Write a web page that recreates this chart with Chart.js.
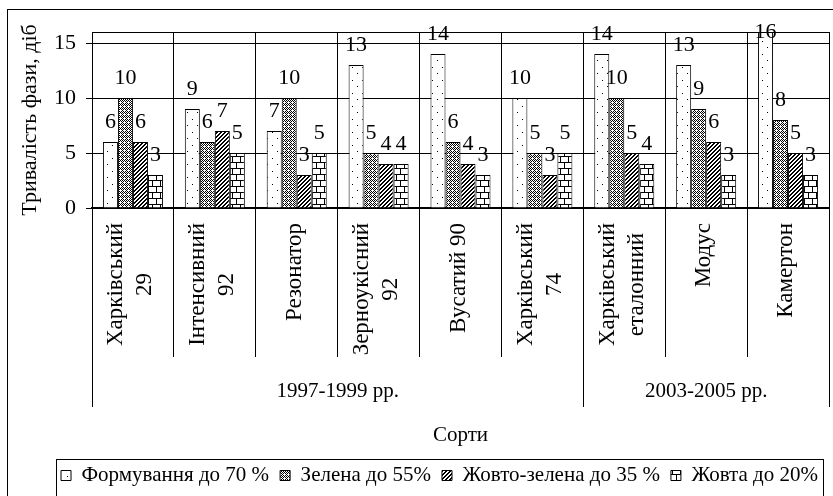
<!DOCTYPE html>
<html>
<head>
<meta charset="utf-8">
<script src="https://cdn.jsdelivr.net/npm/chart.js@4.4.0/dist/chart.umd.min.js"></script>
<style>
  body { margin: 0; background: #fff; }
  canvas { display: block; }
</style>
</head>
<body>
<canvas id="phases" width="833" height="496"></canvas>
<script>
// varieties (two lines where the label wraps)
var categories = [
  ['Харківський', '29'], ['Інтенсивний', '92'], ['Резонатор'],
  ['Зерноукісний', '92'], ['Вусатий 90'], ['Харківський', '74'],
  ['Харківський', 'еталонний'], ['Модус'], ['Камертон']
];
var groupNames = ['1997-1999 рр.', '2003-2005 рр.'];
var groupSizes = [6, 3];

var seriesNames = ['Формування до 70 %', 'Зелена до 55%', 'Жовто-зелена до 35 %', 'Жовта до 20%'];
var formuvannia = [6, 9, 7, 13, 14, 10, 14, 13, 16];
var zelena = [10, 6, 10, 5, 6, 5, 10, 9, 8];
var zhovtoZelena = [6, 7, 3, 4, 4, 3, 5, 6, 5];
var zhovta = [3, 5, 5, 4, 3, 5, 4, 3, 3];

var yMax = 16;
var yStep = 5;

var serif = "'Liberation Serif', 'Times New Roman', serif";
Chart.defaults.color = '#000';
Chart.defaults.font.family = serif;

var ctx = document.getElementById('phases').getContext('2d');

function makePattern(w, h, draw) {
  var c = document.createElement('canvas');
  c.width = w; c.height = h;
  var g = c.getContext('2d');
  g.fillStyle = '#fff';
  g.fillRect(0, 0, w, h);
  g.fillStyle = '#000';
  draw(g, w, h);
  return ctx.createPattern(c, 'repeat');
}

var dots = makePattern(10, 13, function(g) {
  g.fillRect(2, 2, 1, 1);
  g.fillRect(7, 8, 1, 1);
});
var checks = makePattern(4, 4, function(g) {
  for (var x = 0; x < 4; x++) {
    for (var y = 0; y < 4; y++) {
      if ((x + y) % 4 == 0 || (x - y + 4) % 4 == 0) g.fillRect(x, y, 1, 1);
    }
  }
  g.fillRect(2, 0, 1, 1);
});
var stripes = makePattern(4, 4, function(g) {
  for (var x = 0; x < 4; x++) {
    for (var y = 0; y < 4; y++) {
      if ((x + y) % 4 < 2) g.fillRect(x, y, 1, 1);
    }
  }
});
var bricks = makePattern(8, 12, function(g) {
  g.fillRect(0, 0, 8, 1);
  g.fillRect(0, 6, 8, 1);
  g.fillRect(0, 1, 1, 5);
  g.fillRect(4, 7, 1, 5);
});

function align(px) {
  return Math.round(px - 0.5) + 0.5;
}

// frame, multi-level category axis, value labels, legend box
var decorations = {
  id: 'decorations',
  beforeDraw: function(chart) {
    var c = chart.ctx;
    c.save();
    c.fillStyle = '#fff';
    c.fillRect(0, 0, chart.width, chart.height);
    c.strokeStyle = '#000';
    c.lineWidth = 1;
    c.strokeRect(7.5, 9.5, chart.width + 40, chart.height + 40);
    c.restore();
  },
  afterDraw: function(chart) {
    var c = chart.ctx;
    var area = chart.chartArea;
    var xs = chart.scales.x;
    var n = categories.length;
    c.save();
    c.strokeStyle = '#000';
    c.lineWidth = 1;
    c.strokeRect(align(area.left), align(area.top), Math.round(area.right - area.left), Math.round(area.bottom - area.top));

    // category boundaries
    var edges = [];
    for (var i = 0; i <= n; i++) {
      if (i == 0) edges.push(area.left);
      else if (i == n) edges.push(area.right);
      else edges.push((xs.getPixelForValue(i - 1) + xs.getPixelForValue(i)) / 2);
    }
    var groupEdges = [0];
    groupSizes.forEach(function(s) { groupEdges.push(groupEdges[groupEdges.length - 1] + s); });
    c.beginPath();
    edges.forEach(function(ex, i) {
      var len = groupEdges.indexOf(i) >= 0 ? 199 : 149;
      c.moveTo(align(ex), area.bottom);
      c.lineTo(align(ex), area.bottom + len);
    });
    c.stroke();

    // rotated variety names
    c.fillStyle = '#000';
    c.font = '23px ' + serif;
    c.textAlign = 'center';
    c.textBaseline = 'middle';
    categories.forEach(function(lines, i) {
      var cx = xs.getPixelForValue(i) - 2;
      var w = 0;
      lines.forEach(function(t) { w = Math.max(w, c.measureText(t).width); });
      var cy = area.bottom + 15 + w / 2;
      lines.forEach(function(t, j) {
        c.save();
        c.translate(cx + (j - (lines.length - 1) / 2) * 29, cy);
        c.rotate(-Math.PI / 2);
        c.fillText(t, 0, 0);
        c.restore();
      });
    });

    // period labels
    c.font = '21px ' + serif;
    groupNames.forEach(function(g, k) {
      var gx = (edges[groupEdges[k]] + edges[groupEdges[k + 1]]) / 2;
      c.fillText(g, gx, area.bottom + 183);
    });

    // bar values, kept inside the plot at the top
    c.font = '22px ' + serif;
    c.textBaseline = 'alphabetic';
    chart.data.datasets.forEach(function(ds, di) {
      chart.getDatasetMeta(di).data.forEach(function(bar, i) {
        c.fillText(ds.data[i], bar.x, Math.max(bar.y - 14, area.top + 6));
      });
    });

    // legend frame
    var boxes = chart.legend.legendHitBoxes;
    if (boxes && boxes.length) {
      var first = boxes[0], last = boxes[boxes.length - 1];
      var lx = Math.round(first.left - 5) + 0.5;
      var rx = Math.round(last.left + last.width + 5) + 0.5;
      var ty = Math.round(first.top - 6) + 0.5;
      c.strokeRect(lx, ty, rx - lx, chart.height + 10 - ty);
    }
    c.restore();
  }
};

function series(label, data, fill) {
  return {
    label: label,
    data: data,
    backgroundColor: fill,
    borderColor: '#000',
    borderWidth: 1,
    barPercentage: 1,
    categoryPercentage: 0.733
  };
}

var phaseChart = new Chart(ctx, {
  type: 'bar',
  data: {
    labels: categories,
    datasets: [
      series(seriesNames[0], formuvannia, dots),
      series(seriesNames[1], zelena, checks),
      series(seriesNames[2], zhovtoZelena, stripes),
      series(seriesNames[3], zhovta, bricks)
    ]
  },
  options: {
    responsive: false,
    animation: false,
    devicePixelRatio: 1,
    layout: { padding: { top: 32, left: 0, right: 4, bottom: 0 } },
    plugins: {
      tooltip: { enabled: false },
      legend: {
        position: 'bottom',
        align: 'end',
        labels: { boxWidth: 10, boxHeight: 10, padding: 11, color: '#000', font: { family: serif, size: 21 } }
      }
    },
    scales: {
      x: {
        grid: { color: '#000', offset: true, drawTicks: false },
        border: { color: '#000', width: 2 },
        ticks: { display: false },
        title: { display: true, text: 'Сорти', color: '#000', font: { family: serif, size: 21 }, padding: { top: 0, bottom: 6 } },
        afterFit: function(scale) { scale.height = 246; }
      },
      y: {
        min: 0,
        max: yMax,
        ticks: { stepSize: yStep, includeBounds: false, padding: 10, color: '#000', font: { family: serif, size: 22 } },
        grid: { color: '#000', tickLength: 6 },
        border: { color: '#000' },
        title: { display: true, text: 'Тривалість фази, діб', color: '#000', font: { family: serif, size: 22 }, padding: { top: 17, bottom: 0 } },
        afterFit: function(scale) { scale.width = 92; }
      }
    }
  },
  plugins: [decorations]
});
</script>
</body>
</html>
